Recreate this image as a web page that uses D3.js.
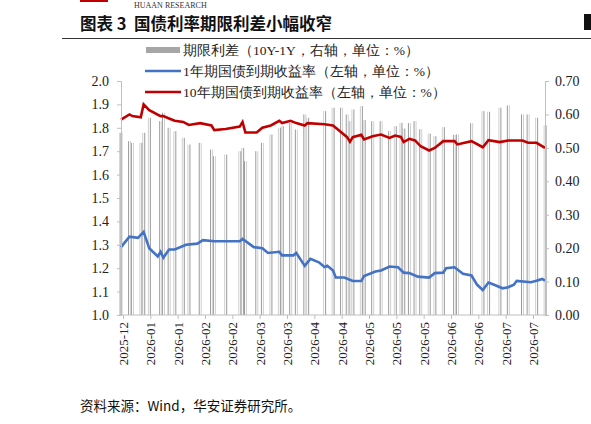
<!DOCTYPE html>
<html><head><meta charset="utf-8">
<script src="https://cdn.jsdelivr.net/npm/d3@7"></script>
<style>body{margin:0;background:#fff}</style>
</head><body>
<script>
const redDays = [0,3,4,7,8,10,14,15,17,19,22,24,28,32,33,37,42,43,44,48,50,53,56,57,60,62,65,66,72,75,78,80,81,82,85,86,89,92,95,97,99,100,102,104,106,109,111,114,118,119,124,128,130,134,137,142,144,147,150];
const redVals = [1.835,1.857,1.85,1.845,1.90,1.875,1.85,1.85,1.84,1.83,1.825,1.812,1.82,1.81,1.79,1.795,1.805,1.825,1.78,1.78,1.80,1.81,1.83,1.82,1.83,1.82,1.81,1.82,1.815,1.81,1.78,1.76,1.74,1.76,1.77,1.75,1.764,1.771,1.757,1.767,1.761,1.739,1.753,1.746,1.721,1.703,1.714,1.743,1.743,1.729,1.743,1.717,1.747,1.739,1.746,1.746,1.736,1.736,1.714];
const blueDays = [0,3,6,8,10,13,14,15,17,19,23,27,29,33,42,43,47,50,52,56,57,61,62,65,67,70,72,73,75,76,79,82,85,86,90,92,95,98,100,102,105,109,111,114,115,118,121,124,126,128,130,132,135,137,139,140,145,147,149,150];
const blueVals = [1.29,1.335,1.33,1.355,1.285,1.25,1.27,1.245,1.28,1.28,1.30,1.305,1.32,1.315,1.315,1.325,1.29,1.285,1.265,1.27,1.255,1.255,1.265,1.21,1.24,1.225,1.205,1.21,1.19,1.16,1.16,1.145,1.145,1.167,1.186,1.19,1.207,1.204,1.181,1.179,1.164,1.16,1.179,1.181,1.20,1.204,1.176,1.169,1.129,1.107,1.139,1.129,1.114,1.119,1.129,1.146,1.14,1.146,1.154,1.147];
const spreadVals = [0.545,0.52,0.515,0.515,0.545,0.59,0.58,0.605,0.56,0.55,0.53,0.51,0.515,0.495,0.475,0.48,0.49,0.50,0.46,0.49,0.515,0.54,0.56,0.565,0.575,0.555,0.60,0.59,0.61,0.62,0.62,0.60,0.58,0.615,0.625,0.583,0.58,0.58,0.55,0.565,0.575,0.558,0.574,0.58,0.556,0.543,0.535,0.562,0.539,0.54,0.574,0.61,0.608,0.62,0.627,0.60,0.60,0.59,0.567];
const xLabels = ["2025-12","2026-01","2026-01","2026-02","2026-02","2026-03","2026-03","2026-04","2026-04","2026-05","2026-05","2026-05","2026-06","2026-06","2026-07","2026-07"];
const leftTicks = [1.0,1.1,1.2,1.3,1.4,1.5,1.6,1.7,1.8,1.9,2.0];
const rightTicks = [0,0.1,0.2,0.3,0.4,0.5,0.6,0.7];

const W = 591, H = 424;
const svg = d3.select("body").append("svg").attr("width", W).attr("height", H);
const serif = "'Liberation Serif', serif";
const cjk = "'Noto Sans CJK SC', sans-serif";

// header
svg.append("rect").attr("x", 80).attr("y", -4).attr("width", 28).attr("height", 6).attr("fill", "#c00000");
svg.append("text").attr("x", 134).attr("y", 8).attr("font-family", serif).attr("font-size", 8).attr("fill", "#333").text("HUAAN RESEARCH");
svg.append("text").attr("x", 80).attr("y", 30).attr("font-family", cjk).attr("font-weight", "bold").attr("font-size", 16.5).attr("fill", "#111")
  .attr("xml:space", "preserve").style("white-space", "pre").text("图表 3  国债利率期限利差小幅收窄");
svg.append("line").attr("x1", 62).attr("x2", 591).attr("y1", 38.5).attr("y2", 38.5).attr("stroke", "#333").attr("stroke-width", 1);
svg.append("rect").attr("x", 584).attr("y", 14).attr("width", 7).attr("height", 16).attr("fill", "#111");

const x = d3.scaleLinear().domain([0, 150]).range([121, 545]);
const yL = d3.scaleLinear().domain([1.0, 2.0]).range([315, 81]);
const yR = d3.scaleLinear().domain([0, 0.7]).range([315, 81]);

// bars: each drawn as a pair of thin strokes to mimic the daily hairlines
const bars = svg.append("g");
[-1.4, 0.6].forEach((off, k) => {
  bars.selectAll(null).data(spreadVals).join("rect")
    .attr("x", (d, i) => x(redDays[i]) + off)
    .attr("width", 1)
    .attr("y", d => yR(d))
    .attr("height", d => yR(0) - yR(d))
    .attr("fill", (d, i) => (Math.floor(i / 3) + k) % 2 ? "#d0d0d0" : "#9a9a9a");
});

const line = d3.line().x(d => x(d[0])).y(d => yL(d[1]));
svg.append("path").datum(blueDays.map((d, i) => [d, blueVals[i]]))
  .attr("d", line).attr("fill", "none").attr("stroke", "#4472c4").attr("stroke-width", 2.6);
svg.append("path").datum(redDays.map((d, i) => [d, redVals[i]]))
  .attr("d", line).attr("fill", "none").attr("stroke", "#c00000").attr("stroke-width", 2.6);

// axes
const axL = svg.append("g").attr("transform", "translate(121,0)")
  .call(d3.axisLeft(yL).tickValues(leftTicks).tickFormat(d3.format(".1f")).tickSize(4));
const axR = svg.append("g").attr("transform", "translate(545,0)")
  .call(d3.axisRight(yR).tickValues(rightTicks).tickFormat(d3.format(".2f")).tickSize(4));
const xb = d3.scalePoint().domain(d3.range(xLabels.length)).range([123, 533]);
const axB = svg.append("g").attr("transform", "translate(0,315)")
  .call(d3.axisBottom(xb).tickFormat(i => xLabels[i]).tickSize(4));
axB.select(".domain").attr("d", "M121,0H545");
[axL, axR, axB].forEach(a => {
  a.selectAll("path,line").attr("stroke", "#bfbfbf");
  a.selectAll("text").attr("font-family", serif).attr("font-size", 14).attr("fill", "#222");
});
axL.selectAll("text").attr("x", -12);
axR.selectAll("text").attr("x", 10);
axB.selectAll("text").attr("font-size", 13).attr("transform", "rotate(-90)")
  .attr("text-anchor", "end").attr("x", -7).attr("y", 0).attr("dy", "0.35em");

// legend
const lg = svg.append("g").attr("font-family", serif).attr("font-size", 13.5).attr("fill", "#222");
lg.append("rect").attr("x", 146).attr("y", 47).attr("width", 34).attr("height", 6).attr("fill", "#a6a6a6");
lg.append("line").attr("x1", 145).attr("x2", 181).attr("y1", 71).attr("y2", 71).attr("stroke", "#4472c4").attr("stroke-width", 2.6);
lg.append("line").attr("x1", 145).attr("x2", 181).attr("y1", 92).attr("y2", 92).attr("stroke", "#c00000").attr("stroke-width", 2.6);
lg.append("text").attr("x", 183).attr("y", 55).text("期限利差（10Y-1Y，右轴，单位：%）");
lg.append("text").attr("x", 183).attr("y", 76).text("1年期国债到期收益率（左轴，单位：%）");
lg.append("text").attr("x", 183).attr("y", 97).text("10年期国债到期收益率（左轴，单位：%）");

svg.append("text").attr("x", 80).attr("y", 411).attr("font-family", cjk).attr("font-size", 13.5).attr("fill", "#111").text("资料来源：Wind，华安证券研究所。");
</script>
</body></html>
